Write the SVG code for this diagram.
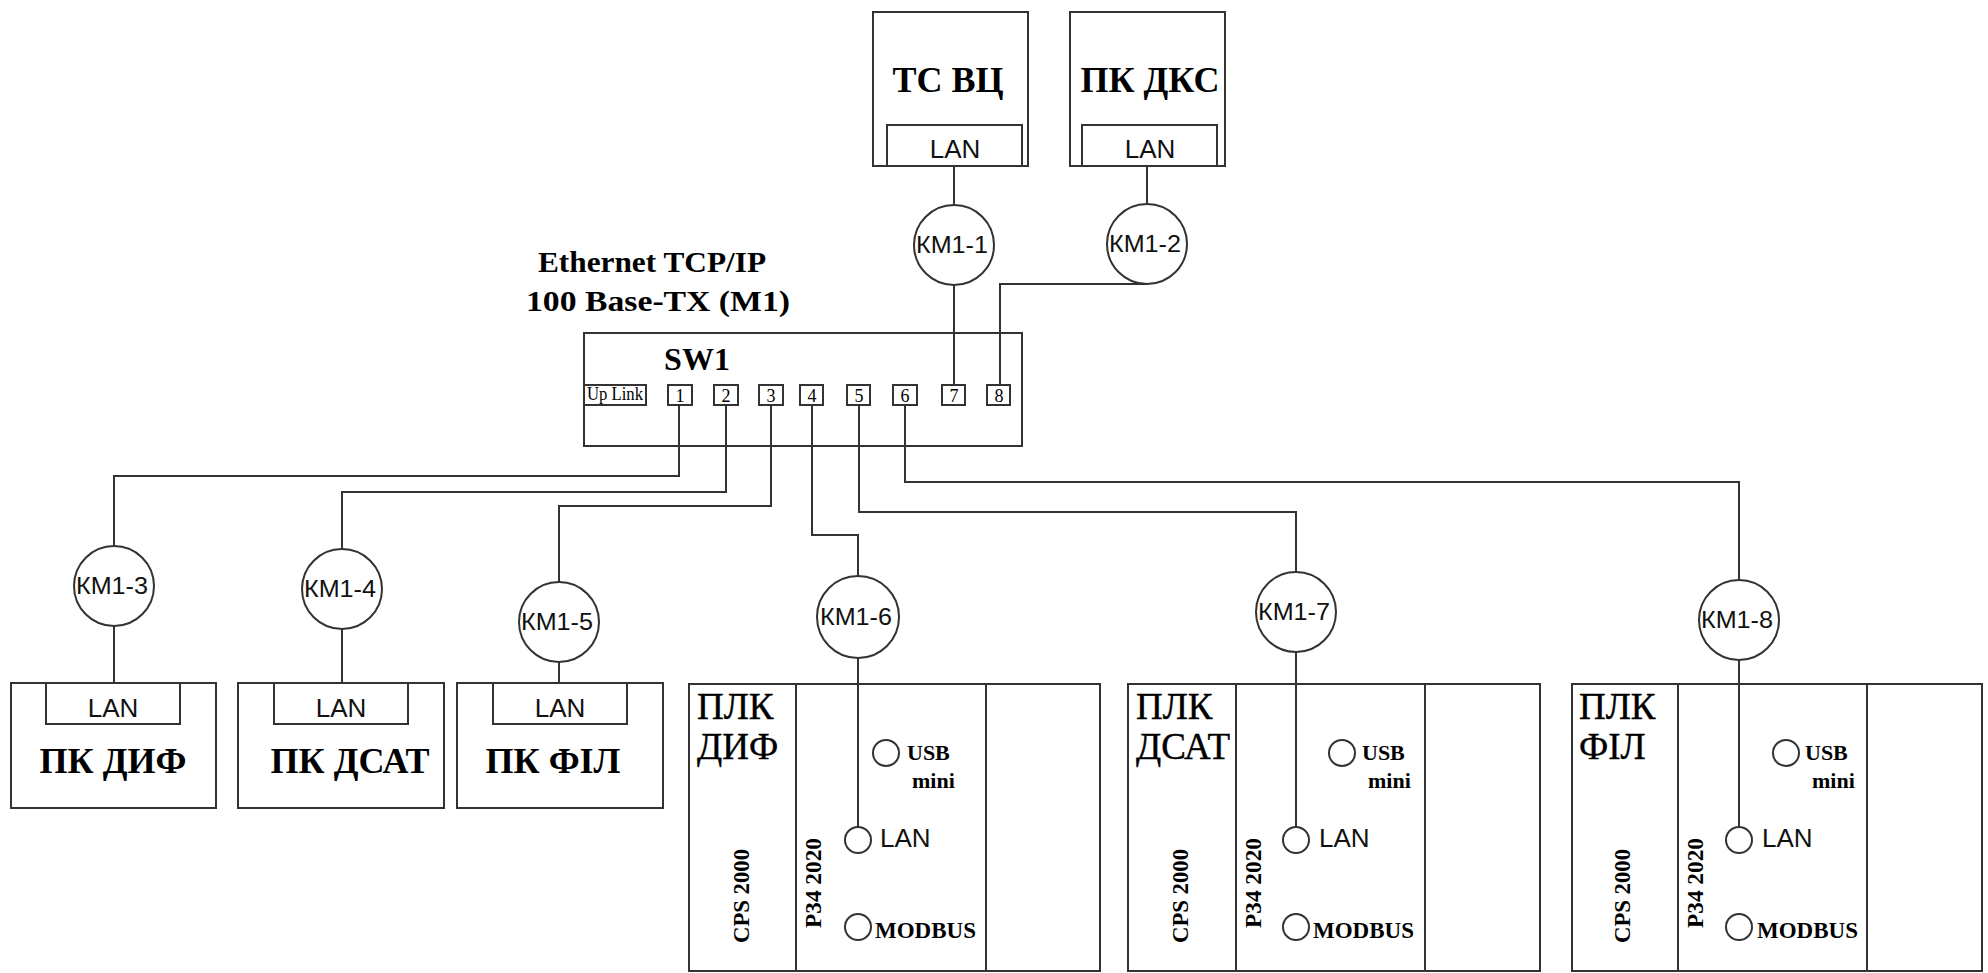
<svg xmlns="http://www.w3.org/2000/svg" width="1988" height="973" viewBox="0 0 1988 973">
<style>
.s{fill:none;stroke:#333;stroke-width:2}
.w{fill:#fff;stroke:#333;stroke-width:2}
.ln{fill:none;stroke:#333;stroke-width:2}
.big{font-family:"Liberation Serif","Times New Roman",serif;font-weight:bold;font-size:36px;fill:#000}
.plc{font-family:"Liberation Serif","Times New Roman",serif;font-size:37px;fill:#000;stroke:#000;stroke-width:0.4}
.lan{font-family:"Liberation Sans",Arial,sans-serif;font-size:26px;fill:#111}
.km{font-family:"Liberation Sans",Arial,sans-serif;font-size:23px;fill:#111}
.sb{font-family:"Liberation Serif","Times New Roman",serif;font-weight:bold;fill:#000}
.port{font-family:"Liberation Serif","Times New Roman",serif;font-size:18px;fill:#000}
</style>

<g id="connectors">
  <path class="ln" d="M954,166 V205"/>
  <path class="ln" d="M1147,166 V204"/>
  <path class="ln" d="M954,285 V385"/>
  <path class="ln" d="M1147,284 H1000 V385"/>
  <path class="ln" d="M679,405 V476 H114 V546"/>
  <path class="ln" d="M114,626 V683"/>
  <path class="ln" d="M726,405 V492 H342 V549"/>
  <path class="ln" d="M342,629 V683"/>
  <path class="ln" d="M771,405 V506 H559 V582"/>
  <path class="ln" d="M559,662 V683"/>
  <path class="ln" d="M812,405 V535 H858 V576"/>
  <path class="ln" d="M858,658 V827"/>
  <path class="ln" d="M859,405 V512 H1296 V572"/>
  <path class="ln" d="M1296,652 V827"/>
  <path class="ln" d="M905,405 V482 H1739 V580"/>
  <path class="ln" d="M1739,660 V827"/>
</g>

<g id="tc-vc">
  <rect class="s" x="873" y="12" width="155" height="154"/>
  <rect class="s" x="887" y="125" width="135" height="41"/>
  <text class="big" x="948" y="92" text-anchor="middle">ТС ВЦ</text>
  <text class="lan" x="955" y="158" text-anchor="middle">LAN</text>
</g>
<g id="pk-dks">
  <rect class="s" x="1070" y="12" width="155" height="154"/>
  <rect class="s" x="1082" y="125" width="135" height="41"/>
  <text class="big" x="1150" y="92" text-anchor="middle">ПК ДКС</text>
  <text class="lan" x="1150" y="158" text-anchor="middle">LAN</text>
</g>

<g id="km1-1"><circle class="w" cx="954" cy="245" r="40"/><text class="km" x="952" y="253" text-anchor="middle" textLength="72" lengthAdjust="spacingAndGlyphs">КМ1-1</text></g>
<g id="km1-2"><circle class="w" cx="1147" cy="244" r="40"/><text class="km" x="1145" y="252" text-anchor="middle" textLength="72" lengthAdjust="spacingAndGlyphs">КМ1-2</text></g>

<g id="title">
  <text class="sb" font-size="30" x="652" y="272" text-anchor="middle" textLength="228" lengthAdjust="spacingAndGlyphs">Ethernet TCP/IP</text>
  <text class="sb" font-size="30" x="658" y="311" text-anchor="middle" textLength="264" lengthAdjust="spacingAndGlyphs">100 Base-TX (M1)</text>
</g>

<g id="sw1">
  <rect class="s" x="584" y="333" width="438" height="113"/>
  <text class="sb" font-size="32" x="697" y="370" text-anchor="middle">SW1</text>
  <rect class="s" x="584" y="385" width="62" height="20"/>
  <text class="port" font-size="16" x="615" y="400" text-anchor="middle" textLength="56" lengthAdjust="spacingAndGlyphs">Up Link</text>
  <rect class="s" x="668" y="385" width="24" height="20"/><text class="port" x="680" y="402" text-anchor="middle">1</text>
  <rect class="s" x="714" y="385" width="24" height="20"/><text class="port" x="726" y="402" text-anchor="middle">2</text>
  <rect class="s" x="759" y="385" width="24" height="20"/><text class="port" x="771" y="402" text-anchor="middle">3</text>
  <rect class="s" x="800" y="385" width="23" height="20"/><text class="port" x="812" y="402" text-anchor="middle">4</text>
  <rect class="s" x="847" y="385" width="23" height="20"/><text class="port" x="859" y="402" text-anchor="middle">5</text>
  <rect class="s" x="893" y="385" width="24" height="20"/><text class="port" x="905" y="402" text-anchor="middle">6</text>
  <rect class="s" x="942" y="385" width="23" height="20"/><text class="port" x="954" y="402" text-anchor="middle">7</text>
  <rect class="s" x="987" y="385" width="23" height="20"/><text class="port" x="999" y="402" text-anchor="middle">8</text>
</g>

<g id="km1-3"><circle class="w" cx="114" cy="586" r="40"/><text class="km" x="112" y="594" text-anchor="middle" textLength="72" lengthAdjust="spacingAndGlyphs">КМ1-3</text></g>
<g id="km1-4"><circle class="w" cx="342" cy="589" r="40"/><text class="km" x="340" y="597" text-anchor="middle" textLength="72" lengthAdjust="spacingAndGlyphs">КМ1-4</text></g>
<g id="km1-5"><circle class="w" cx="559" cy="622" r="40"/><text class="km" x="557" y="630" text-anchor="middle" textLength="72" lengthAdjust="spacingAndGlyphs">КМ1-5</text></g>
<g id="km1-6"><circle class="w" cx="858" cy="617" r="41"/><text class="km" x="856" y="625" text-anchor="middle" textLength="72" lengthAdjust="spacingAndGlyphs">КМ1-6</text></g>
<g id="km1-7"><circle class="w" cx="1296" cy="612" r="40"/><text class="km" x="1294" y="620" text-anchor="middle" textLength="72" lengthAdjust="spacingAndGlyphs">КМ1-7</text></g>
<g id="km1-8"><circle class="w" cx="1739" cy="620" r="40"/><text class="km" x="1737" y="628" text-anchor="middle" textLength="72" lengthAdjust="spacingAndGlyphs">КМ1-8</text></g>

<g id="pk-dif">
  <rect class="s" x="11" y="683" width="205" height="125"/>
  <rect class="s" x="46" y="683" width="134" height="41"/>
  <text class="lan" x="113" y="717" text-anchor="middle">LAN</text>
  <text class="big" x="113" y="773" text-anchor="middle">ПК ДИФ</text>
</g>
<g id="pk-dsat">
  <rect class="s" x="238" y="683" width="206" height="125"/>
  <rect class="s" x="274" y="683" width="134" height="41"/>
  <text class="lan" x="341" y="717" text-anchor="middle">LAN</text>
  <text class="big" x="350" y="773" text-anchor="middle">ПК ДСАТ</text>
</g>
<g id="pk-fil">
  <rect class="s" x="457" y="683" width="206" height="125"/>
  <rect class="s" x="493" y="683" width="134" height="41"/>
  <text class="lan" x="560" y="717" text-anchor="middle">LAN</text>
  <text class="big" x="553" y="773" text-anchor="middle">ПК ФІЛ</text>
</g>

<g id="plk-dif">
  <rect class="s" x="689" y="684" width="411" height="287"/>
  <path class="ln" d="M796,684 V971 M986,684 V971"/>
  <text class="plc" x="697" y="719">ПЛК</text>
  <text class="plc" x="697" y="759">ДИФ</text>
  <text class="sb" font-size="23" transform="translate(749,896) rotate(-90)" text-anchor="middle" textLength="94" lengthAdjust="spacingAndGlyphs">CPS 2000</text>
  <text class="sb" font-size="23" transform="translate(821,883) rotate(-90)" text-anchor="middle" textLength="90" lengthAdjust="spacingAndGlyphs">P34 2020</text>
  <circle class="w" cx="886" cy="753" r="13"/>
  <text class="sb" font-size="22" x="907" y="760">USB</text>
  <text class="sb" font-size="22" x="912" y="788">mini</text>
  <circle class="w" cx="858" cy="840" r="13"/>
  <text class="lan" x="880" y="847">LAN</text>
  <circle class="w" cx="858" cy="927" r="13"/>
  <text class="sb" font-size="23" x="875" y="938">MODBUS</text>
</g>

<g id="plk-dsat">
  <rect class="s" x="1128" y="684" width="412" height="287"/>
  <path class="ln" d="M1236,684 V971 M1425,684 V971"/>
  <text class="plc" x="1136" y="719">ПЛК</text>
  <text class="plc" x="1136" y="759">ДСАТ</text>
  <text class="sb" font-size="23" transform="translate(1188,896) rotate(-90)" text-anchor="middle" textLength="94" lengthAdjust="spacingAndGlyphs">CPS 2000</text>
  <text class="sb" font-size="23" transform="translate(1261,883) rotate(-90)" text-anchor="middle" textLength="90" lengthAdjust="spacingAndGlyphs">P34 2020</text>
  <circle class="w" cx="1342" cy="753" r="13"/>
  <text class="sb" font-size="22" x="1362" y="760">USB</text>
  <text class="sb" font-size="22" x="1368" y="788">mini</text>
  <circle class="w" cx="1296" cy="840" r="13"/>
  <text class="lan" x="1319" y="847">LAN</text>
  <circle class="w" cx="1296" cy="927" r="13"/>
  <text class="sb" font-size="23" x="1313" y="938">MODBUS</text>
</g>

<g id="plk-fil">
  <rect class="s" x="1572" y="684" width="410" height="287"/>
  <path class="ln" d="M1678,684 V971 M1867,684 V971"/>
  <text class="plc" x="1579" y="719">ПЛК</text>
  <text class="plc" x="1579" y="759">ФІЛ</text>
  <text class="sb" font-size="23" transform="translate(1630,896) rotate(-90)" text-anchor="middle" textLength="94" lengthAdjust="spacingAndGlyphs">CPS 2000</text>
  <text class="sb" font-size="23" transform="translate(1703,883) rotate(-90)" text-anchor="middle" textLength="90" lengthAdjust="spacingAndGlyphs">P34 2020</text>
  <circle class="w" cx="1786" cy="753" r="13"/>
  <text class="sb" font-size="22" x="1805" y="760">USB</text>
  <text class="sb" font-size="22" x="1812" y="788">mini</text>
  <circle class="w" cx="1739" cy="840" r="13"/>
  <text class="lan" x="1762" y="847">LAN</text>
  <circle class="w" cx="1739" cy="927" r="13"/>
  <text class="sb" font-size="23" x="1757" y="938">MODBUS</text>
</g>
</svg>
